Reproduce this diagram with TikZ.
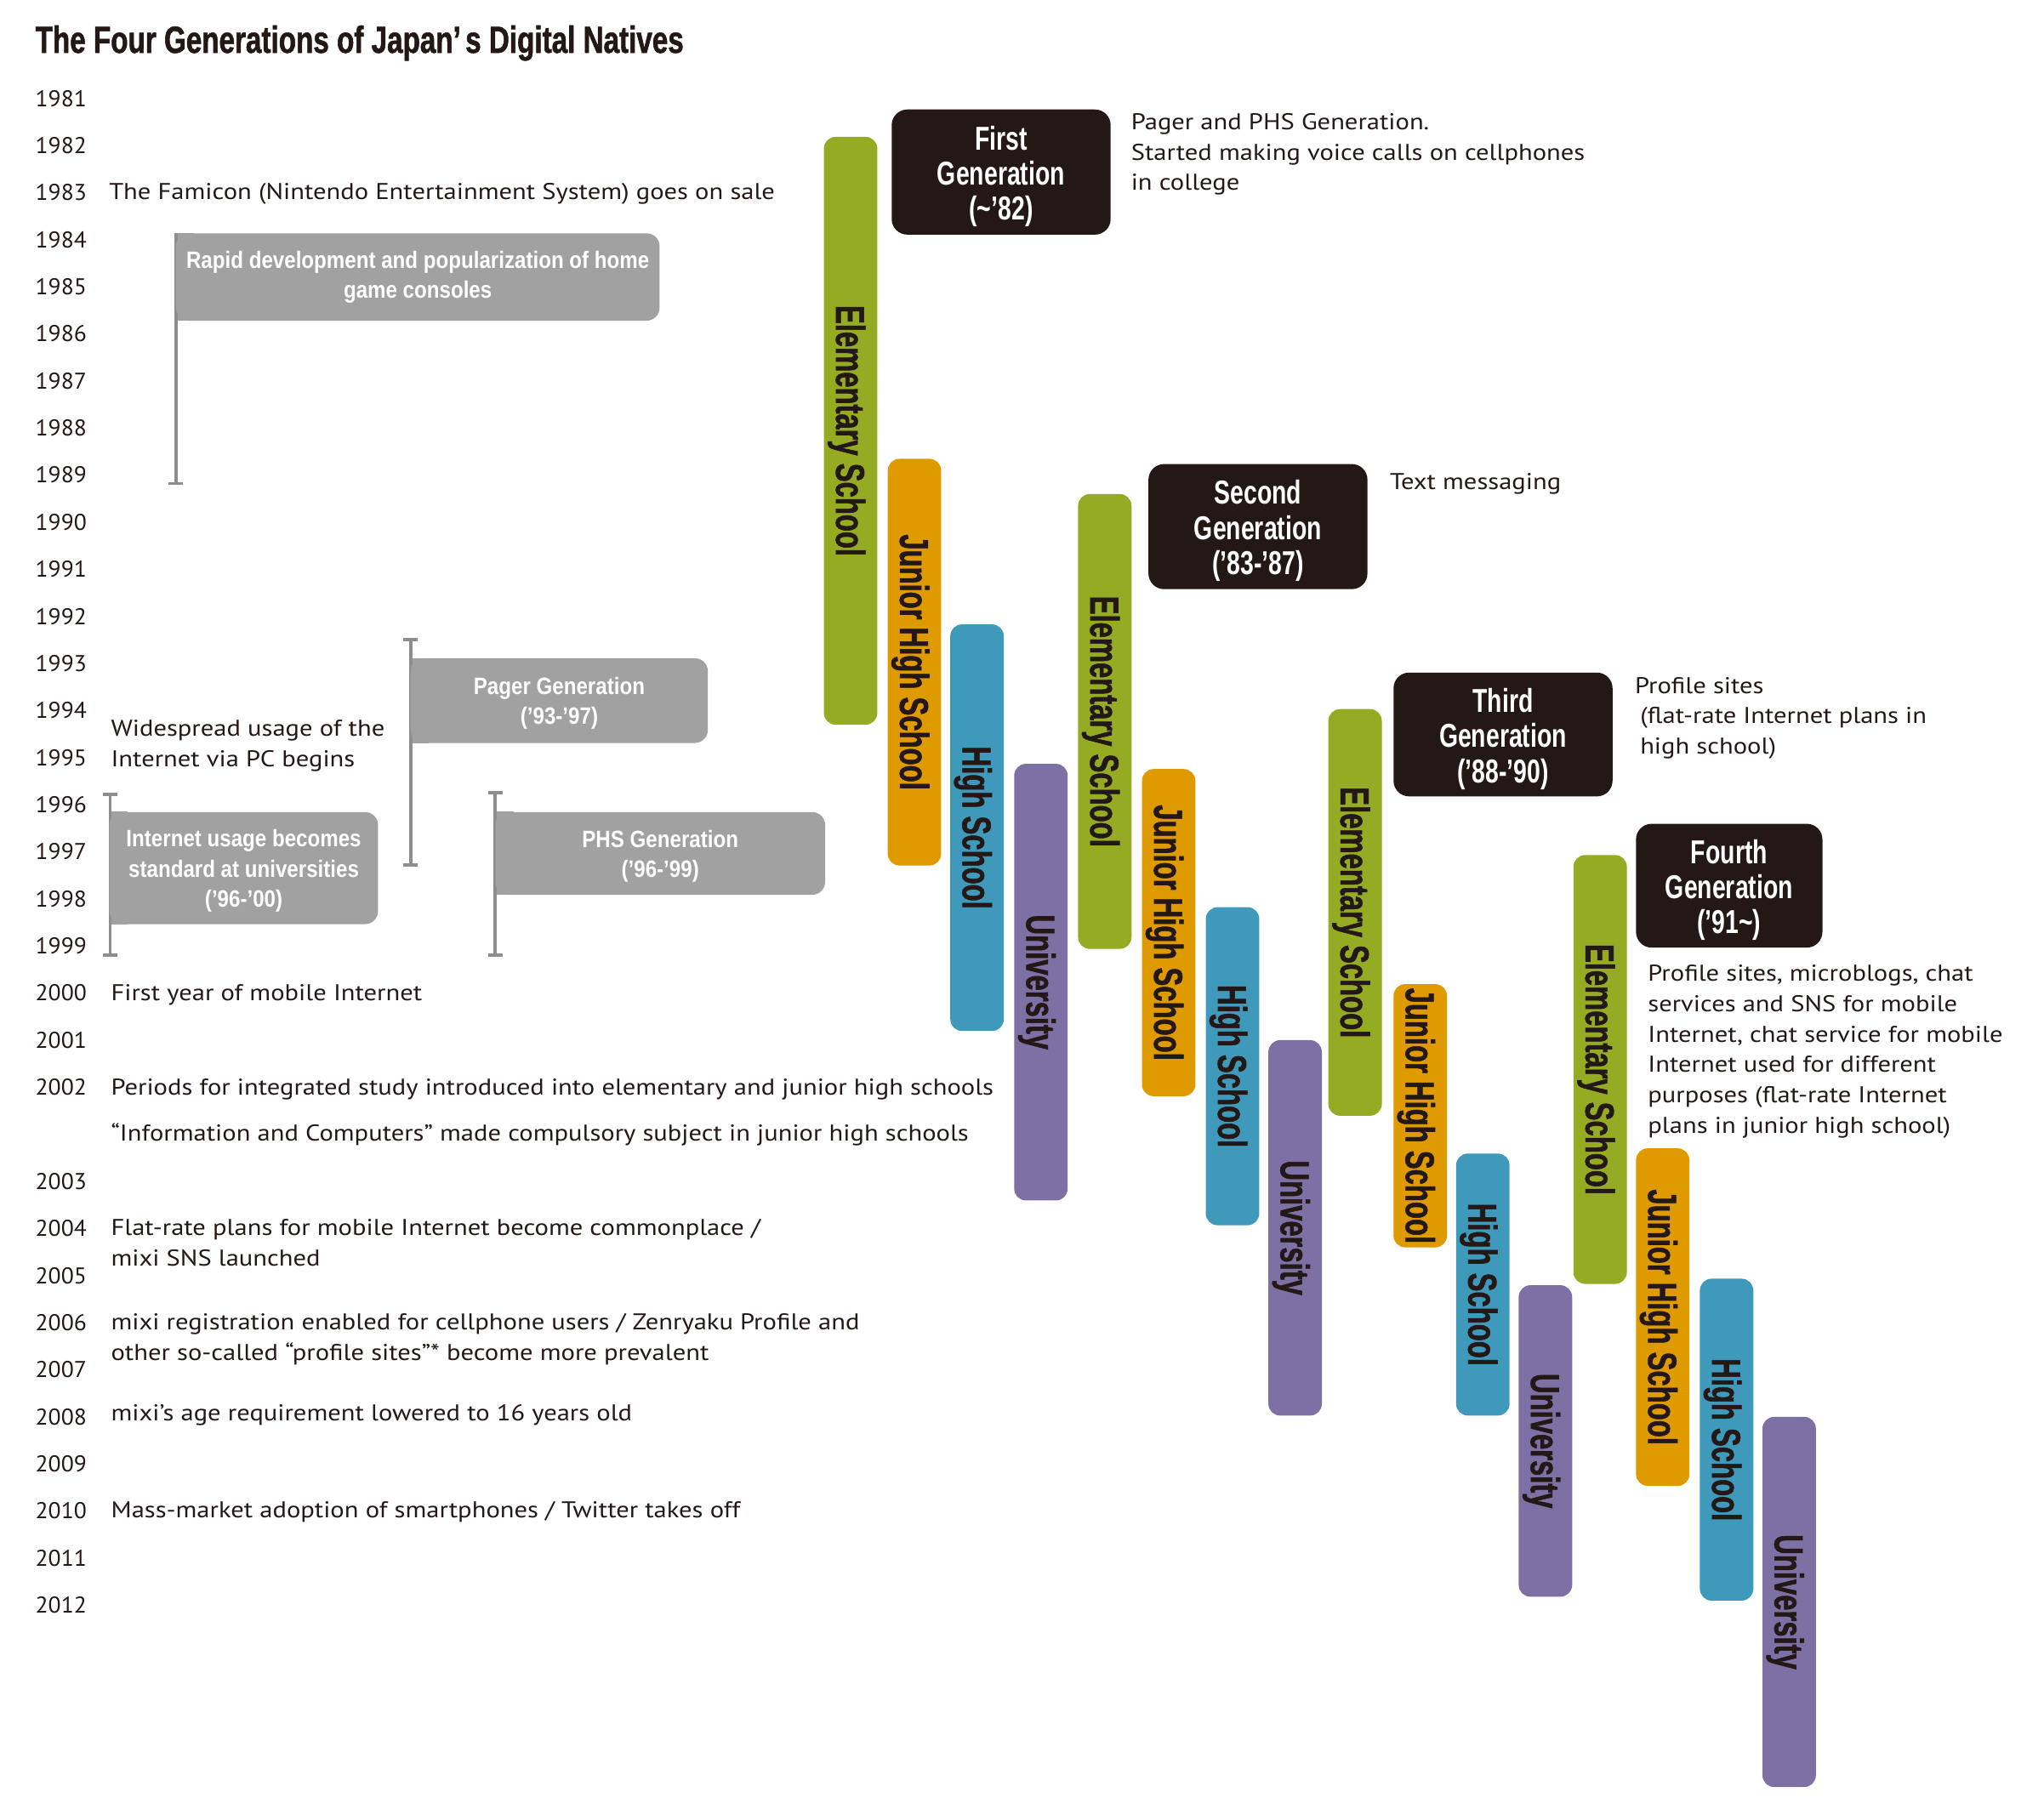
\documentclass[tikz,border=0pt]{standalone}
\usepackage{fontspec}
\setmainfont[FakeStretch=1.14]{PT Sans}
\newfontfamily\yearf[FakeStretch=1.03]{PT Sans}
\newfontfamily\titlef[FakeStretch=0.75,FakeBold=1.2]{Liberation Sans}
\newfontfamily\barf[FakeStretch=0.69,FakeBold=1.2]{Liberation Sans}
\newfontfamily\genf[FakeStretch=0.73]{Liberation Sans}
\newfontfamily\greyf[FakeStretch=0.865]{Liberation Sans}
\definecolor{ink}{HTML}{231815}
\definecolor{cgreen}{HTML}{94AB23}
\definecolor{corange}{HTML}{DF9A00}
\definecolor{cblue}{HTML}{3F99BB}
\definecolor{cpurple}{HTML}{7D70A4}
\definecolor{gbox}{HTML}{A1A1A1}
\definecolor{gline}{HTML}{8E8E8E}
\pgfdeclarelayer{bg}
\pgfsetlayers{bg,main}
\newcommand{\firstlines}[1]{\begin{tabular}[t]{@{}l@{}}#1\end{tabular}}
\tikzset{
  bar/.style={rotate=-90, minimum height=41pt, inner sep=0pt, rounded corners=9pt,
    text=ink, font=\barf\bfseries\fontsize{31}{31}\selectfont, text height=22.2pt, text depth=0pt},
  genbox/.style={fill=ink, text=white, rounded corners=12pt, inner sep=0pt, align=center,
    font=\genf\bfseries\fontsize{25.4}{27}\selectfont},
  greybox/.style={fill=gbox, text=white, rounded corners=10pt, inner sep=0pt, align=center,
    font=\greyf\bfseries\fontsize{18.2}{23}\selectfont},
  yr/.style={anchor=base west, inner sep=0pt, text=ink, font=\yearf\fontsize{17.5}{21}\selectfont},
  ev/.style={anchor=base west, inner sep=0pt, text=ink, font=\fontsize{17.5}{23.3}\selectfont},
  rangeline/.style={draw=gline, line width=2.5pt},
}
\newcommand{\gstrut}{\rule{0pt}{25pt}}
\newcommand{\hstrut}{\rule{0pt}{17.5pt}}
\begin{document}
\begin{tikzpicture}[x=1pt,y=-1pt]
\useasboundingbox (0,0) rectangle (1568,1392);
% title
\node[anchor=base west, inner sep=0pt, text=ink, font=\titlef\bfseries\fontsize{28.9}{30}\selectfont]
  (title) at (27,40.5) {The Four Generations of Japan’\hspace{0.12em}s Digital Natives};
% years
\foreach \yr [count=\i from 0] in {1981,...,2002}
  \node[yr] (y\yr) at (27,{81.6+36.125*\i}) {\yr};
\foreach \yr [count=\i from 23] in {2003,...,2012}
  \node[yr] (y\yr) at (27,{81.6+36.125*\i}) {\yr};
% range lines
\coordinate (r1a) at (135,179); \coordinate (r1b) at (135,371);
\coordinate (r2a) at (315,490.5); \coordinate (r2b) at (315,663.6);
\coordinate (r3a) at (84.5,609.5); \coordinate (r3b) at (84.5,733);
\coordinate (r4a) at (380,608); \coordinate (r4b) at (380,732.6);
\draw[rangeline] (r1a) -- (r1b);
\draw[rangeline] ([xshift=-5.5pt]r1b) -- ([xshift=5.5pt]r1b);
\foreach \r in {r2,r3,r4}{
  \draw[rangeline] (\r a) -- (\r b);
  \draw[rangeline] ([xshift=-5.5pt]\r a) -- ([xshift=5.5pt]\r a);
  \draw[rangeline] ([xshift=-5.5pt]\r b) -- ([xshift=5.5pt]\r b);
}
% grey boxes
\node[greybox, minimum width=371pt, minimum height=67pt] (rapid) at (320.5,212.5)
  {Rapid development and popularization of home\\game consoles};
\node[greybox, minimum width=228pt, minimum height=65pt] (pager) at (429,537.5)
  {\hstrut Pager Generation\\(’93-’97)};
\node[greybox, minimum width=206pt, minimum height=86pt] (inet) at (187,666)
  {\hstrut Internet usage becomes\\standard at universities\\(’96-’00)};
\node[greybox, minimum width=253pt, minimum height=63.5pt] (phs) at (506.5,654.75)
  {\hstrut PHS Generation\\(’96-’99)};
\begin{pgfonlayer}{bg}
\foreach \b in {rapid,pager,inet,phs}
  \fill[gbox] (\b.north west) rectangle ([xshift=14pt]\b.south west);
\end{pgfonlayer}
% left events
\node[ev] (famicon) at (83.5,153) {The Famicon (Nintendo Entertainment System) goes on sale};
\node[ev] (wide) at (85,565) {\firstlines{Widespread usage of the\\Internet via PC begins}};
\node[ev] (mobile) at (85,768) {First year of mobile Internet};
\node[ev] (periods) at (85,840) {Periods for integrated study introduced into elementary and junior high schools};
\node[ev] (info) at (85,875.5) {“Information and Computers” made compulsory subject in junior high schools};
\node[ev] (flat) at (85,948) {\firstlines{Flat-rate plans for mobile Internet become commonplace /\\mixi SNS launched}};
\node[ev] (mixireg) at (85,1020.5) {\firstlines{mixi registration enabled for cellphone users / Zenryaku Profile and\\other so-called “profile sites”* become more prevalent}};
\node[ev] (mixiage) at (85,1090) {mixi’s age requirement lowered to 16 years old};
\node[ev] (smart) at (85,1164.5) {Mass-market adoption of smartphones / Twitter takes off};
% bars generation 1
\node[bar, fill=cgreen, minimum width=451pt] (e1) at (652.5,330.5) {Elementary School};
\node[bar, fill=corange, minimum width=312pt] (j1) at (701.5,508) {Junior High School};
\node[bar, fill=cblue, minimum width=312pt] (h1) at (749.5,635) {High School};
\node[bar, fill=cpurple, minimum width=335pt] (u1) at (798.5,753.5) {University};
% generation 2
\node[bar, fill=cgreen, minimum width=349pt] (e2) at (847.5,553.5) {Elementary School};
\node[bar, fill=corange, minimum width=251pt] (j2) at (896.5,715.5) {Junior High School};
\node[bar, fill=cblue, minimum width=244pt] (h2) at (945.5,818) {High School};
\node[bar, fill=cpurple, minimum width=288pt] (u2) at (993.5,942) {University};
% generation 3
\node[bar, fill=cgreen, minimum width=312pt] (e3) at (1039.5,700) {Elementary School};
\node[bar, fill=corange, minimum width=202pt] (j3) at (1089.5,856) {Junior High School};
\node[bar, fill=cblue, minimum width=201pt] (h3) at (1137.5,985.5) {High School};
\node[bar, fill=cpurple, minimum width=239pt] (u3) at (1185.5,1105.5) {University};
% generation 4
\node[bar, fill=cgreen, minimum width=329pt] (e4) at (1227.5,820.5) {Elementary School};
\node[bar, fill=corange, minimum width=259pt] (j4) at (1275.5,1010.5) {Junior High School};
\node[bar, fill=cblue, minimum width=247pt] (h4) at (1324.5,1104.5) {High School};
\node[bar, fill=cpurple, minimum width=284pt] (u4) at (1372.5,1229) {University};
% generation boxes
\node[genbox, minimum width=168pt, minimum height=96pt] (g1) at (768,132) {\gstrut First\\Generation\\(\textasciitilde’82)};
\node[genbox, minimum width=168pt, minimum height=96pt] (g2) at (965,404) {\gstrut Second\\Generation\\(’83-’87)};
\node[genbox, minimum width=168pt, minimum height=95pt] (g3) at (1153,563.5) {\gstrut Third\\Generation\\(’88-’90)};
\node[genbox, minimum width=143pt, minimum height=95pt] (g4) at (1326.5,679.5) {\gstrut Fourth\\Generation\\(’91\textasciitilde)};
% right texts
\node[ev] (t1) at (867.5,99.5) {\firstlines{Pager and PHS Generation.\\Started making voice calls on cellphones\\in college}};
\node[ev] (t2) at (1066,375.5) {Text messaging};
\node[ev] (t3) at (1254,531.8) {\firstlines{Profile sites\\\hspace{4pt}(flat-rate Internet plans in\\\hspace{4pt}high school)}};
\node[ev] (t4) at (1264,752.8) {\firstlines{Profile sites, microblogs, chat\\services and SNS for mobile\\Internet, chat service for mobile\\Internet used for different\\purposes (flat-rate Internet\\plans in junior high school)}};
\end{tikzpicture}
\end{document}
